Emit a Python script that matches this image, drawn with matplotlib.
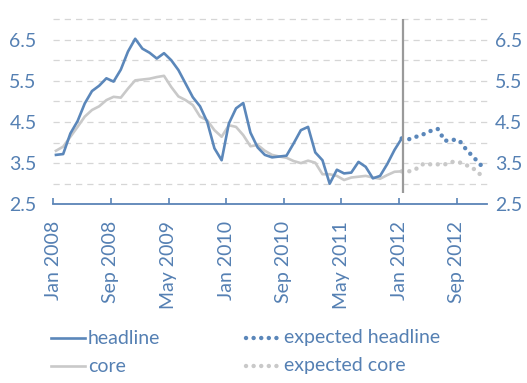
import matplotlib
matplotlib.use("Agg")
import matplotlib.pyplot as plt
from matplotlib.lines import Line2D
import numpy as np

# ---- data ----
headline = [3.70, 3.72, 4.22, 4.52, 4.95, 5.25, 5.38, 5.56, 5.48, 5.77, 6.21, 6.52,
            6.28, 6.18, 6.04, 6.17, 6.00, 5.76, 5.43, 5.10, 4.88, 4.50, 3.86, 3.57,
            4.46, 4.83, 4.96, 4.24, 3.88, 3.70, 3.64, 3.66, 3.68, 3.98, 4.30, 4.38,
            3.76, 3.57, 3.00, 3.34, 3.25, 3.27, 3.53, 3.41, 3.13, 3.19, 3.48, 3.82,
            4.10]
core = [3.80, 3.90, 4.14, 4.38, 4.63, 4.79, 4.88, 5.03, 5.11, 5.09, 5.31, 5.51,
        5.53, 5.55, 5.59, 5.62, 5.35, 5.12, 5.03, 4.91, 4.63, 4.54, 4.30, 4.14,
        4.42, 4.38, 4.18, 3.91, 3.94, 3.80, 3.70, 3.66, 3.63, 3.55, 3.50, 3.56,
        3.51, 3.23, 3.23, 3.19, 3.09, 3.15, 3.17, 3.19, 3.15, 3.12, 3.21, 3.29,
        3.30]
expected_headline = [4.10, 4.08, 4.14, 4.20, 4.28, 4.33, 4.04, 4.07, 4.05, 3.82, 3.64, 3.45]
expected_core = [3.30, 3.30, 3.36, 3.48, 3.47, 3.47, 3.47, 3.53, 3.52, 3.45, 3.36, 3.21]
tick_labels = ["Jan 2008", "Sep 2008", "May 2009", "Jan 2010",
               "Sep 2010", "May 2011", "Jan 2012", "Sep 2012"]
y_ticks = [2.5, 3.5, 4.5, 5.5, 6.5]
y_tick_labels = ["2.5", "3.5", "4.5", "5.5", "6.5"]

# ---- style ----
FONT = ["Lato", "DejaVu Sans"]
plt.rcParams["font.family"] = FONT
plt.rcParams["font.weight"] = "normal"
FS = 14
TXT = "#5580b3"
BLUE = "#5b87ba"
GREY = "#c9c9c9"
AXIS = "#5a84b6"

W, H = 527, 383
fig = plt.figure(figsize=(W / 100, H / 100), dpi=100)
x0, x1 = 53.3, 486.7
ytop, ybot = 19.0, 204.3
ax = fig.add_axes([x0 / W, 1 - ybot / H, (x1 - x0) / W, (ybot - ytop) / H])

m_act = np.arange(len(headline))
m_exp = np.arange(len(headline) - 1, len(headline) - 1 + len(expected_headline))

ax.set_xlim(-0.37, 59.8)
ax.set_ylim(2.5, 7.0)

# grid
for g in np.arange(3.0, 7.01, 0.5):
    ax.axhline(g, color="#d6d6d6", lw=0.9, ls=(0, (5, 4)), zorder=1, clip_on=False)

ax.plot(m_act, core, color=GREY, lw=1.9, zorder=3, solid_joinstyle="round")
ax.plot(m_act, headline, color=BLUE, lw=1.9, zorder=4, solid_joinstyle="round")
ax.plot(m_exp, expected_core, color=GREY, lw=3.2, ls=(0, (0.01, 1.7)),
        dash_capstyle="round", zorder=3)
ax.plot(m_exp, expected_headline, color=BLUE, lw=3.2, ls=(0, (0.01, 1.7)),
        dash_capstyle="round", zorder=4)

ax.vlines(48.15, 2.77, 7.0, color="#9a9a9a", lw=1.6, zorder=5)

# axes styling
for s in ["top", "left", "right"]:
    ax.spines[s].set_visible(False)
ax.spines["bottom"].set_color(AXIS)
ax.spines["bottom"].set_linewidth(1.3)

tick_pos = [-0.37 + 8 * k for k in range(len(tick_labels))]
ax.set_xticks(tick_pos)
ax.set_xticklabels(tick_labels, rotation=90, fontsize=FS, color=TXT, va="top", ha="center")
ax.tick_params(axis="x", direction="in", length=4.5, width=1.2, color=AXIS, pad=12)

ax.set_yticks(y_ticks)
ax.set_yticklabels(y_tick_labels, fontsize=FS, color=TXT)
ax.tick_params(axis="y", length=0, pad=12)

ax2 = ax.twinx()
ax2.set_ylim(ax.get_ylim())
ax2.set_yticks(y_ticks)
ax2.set_yticklabels(y_tick_labels, fontsize=FS, color=TXT)
ax2.tick_params(axis="y", length=0, pad=6)
for s in ax2.spines.values():
    s.set_visible(False)

# legend (manual)
def fx(px):
    return px / W

def fy(py):
    return 1 - py / H

fig.add_artist(Line2D([fx(51), fx(85)], [fy(338), fy(338)], color=BLUE, lw=1.9))
fig.text(fx(88), fy(343.5), "headline", fontsize=FS, color=TXT, va="baseline", ha="left")
fig.add_artist(Line2D([fx(51), fx(85)], [fy(366), fy(366)], color=GREY, lw=1.9))
fig.text(fx(88), fy(371.5), "core", fontsize=FS, color=TXT, va="baseline", ha="left")
fig.add_artist(Line2D([fx(246), fx(279)], [fy(338), fy(338)], color=BLUE, lw=3.2,
                      ls=(0, (0.01, 1.7)), dash_capstyle="round"))
fig.text(fx(284), fy(343.5), "expected headline", fontsize=FS, color=TXT, va="baseline", ha="left")
fig.add_artist(Line2D([fx(246), fx(279)], [fy(366), fy(366)], color=GREY, lw=3.2,
                      ls=(0, (0.01, 1.7)), dash_capstyle="round"))
fig.text(fx(284), fy(371.5), "expected core", fontsize=FS, color=TXT, va="baseline", ha="left")

fig.savefig("out.png", dpi=100)
